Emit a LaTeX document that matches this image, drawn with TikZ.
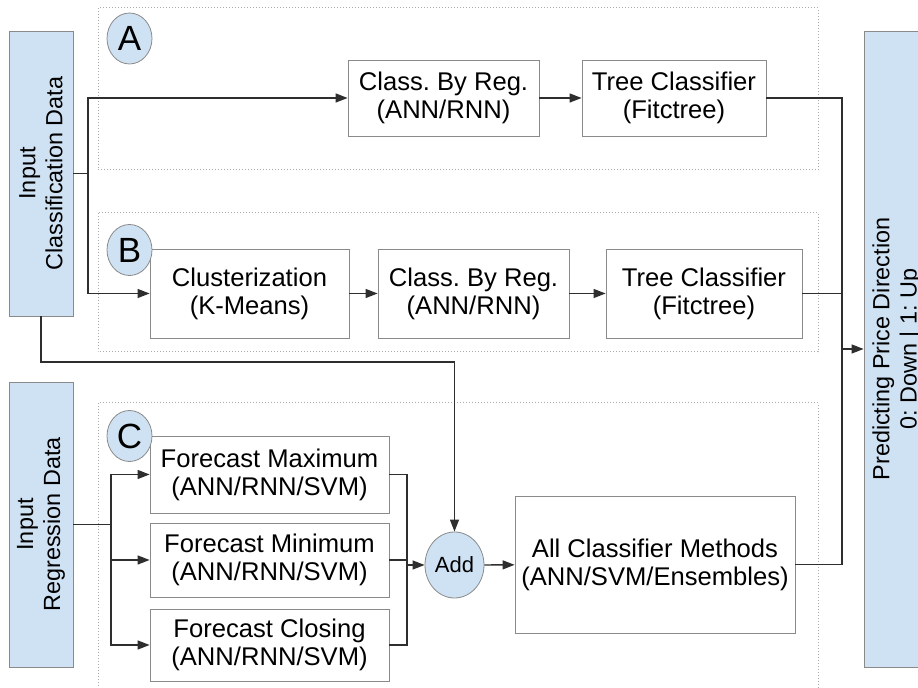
\documentclass[tikz,border=0pt]{standalone}
\usepackage{fontspec}
\setmainfont{Liberation Sans}
\usetikzlibrary{arrows.meta,shapes.geometric}
\definecolor{inblue}{HTML}{CFE2F3}
\definecolor{boxgray}{HTML}{8A8A8A}
\definecolor{grpgray}{HTML}{AAAAAA}
\definecolor{wiregray}{HTML}{2E2E2E}
\frenchspacing
\begin{document}
\begin{tikzpicture}[x=0.5pt,y=-0.5pt,
  stepbox/.style={draw=boxgray,fill=white,align=center,inner sep=0pt,font=\fontsize{12.8}{14}\selectfont},
  databox/.style={draw=boxgray,fill=inblue,inner sep=0pt},
  datatext/.style={rotate=90,align=center,font=\fontsize{11.7}{13.5}\selectfont},
  grpbox/.style={draw=grpgray,densely dotted,line width=0.5pt},
  grplabel/.style={ellipse,draw=boxgray,fill=inblue,minimum width=22.5pt,minimum height=25.5pt,inner sep=0pt,font=\fontsize{17.5}{17.5}\selectfont},
  wire/.style={draw=wiregray,line width=0.65pt},
  conn/.style={wire,-{Triangle[length=6pt,width=4.5pt]}}]
\clip (0,0) rectangle (918,688);
% dotted groups
\draw[grpbox] (98,8) rectangle (818,170);
\draw[grpbox] (98,213) rectangle (818,352);
\draw[grpbox] (98,403) rectangle (818,700);
% inputs and output
\node[databox,minimum width=32pt,minimum height=142.5pt] (inclass) at (41,173.5) {};
\node[datatext] at (inclass) {Input\\Classification Data};
\node[databox,minimum width=32pt,minimum height=142.5pt] (inreg) at (41,524.5) {};
\node[datatext] at (inreg) {Input\\Regression Data};
\node[databox,minimum width=33pt,minimum height=318pt] (output) at (897,349) {};
\node[datatext] at (output) {Predicting Price Direction\\0: Down | 1: Up};
% group A
\node[grplabel] (labA) at (129.5,38.5) {A};
\node[stepbox,minimum width=95.5pt,minimum height=38pt] (clsA) at (443.5,98) {Class. By Reg.\\(ANN/RNN)};
\node[stepbox,minimum width=92pt,minimum height=38pt] (treeA) at (674,98) {Tree Classifier\\(Fitctree)};
% group B
\node[stepbox,minimum width=99.5pt,minimum height=44.5pt] (clusB) at (249.5,293.5) {Clusterization\\(K-Means)};
\node[stepbox,minimum width=95.5pt,minimum height=44.5pt] (clsB) at (473.5,293.5) {Class. By Reg.\\(ANN/RNN)};
\node[stepbox,minimum width=98pt,minimum height=44.5pt] (treeB) at (704,293.5) {Tree Classifier\\(Fitctree)};
\node[grplabel] (labB) at (129.5,250) {B};
% group C
\node[stepbox,minimum width=119.5pt,minimum height=38.5pt] (fmax) at (269.5,474.5) {Forecast Maximum\\(ANN/RNN/SVM)};
\node[stepbox,minimum width=119.5pt,minimum height=37pt] (fmin) at (269.5,560) {Forecast Minimum\\(ANN/RNN/SVM)};
\node[stepbox,minimum width=119.5pt,minimum height=36pt] (fclose) at (269.5,645) {Forecast Closing\\(ANN/RNN/SVM)};
\node[grplabel] (labC) at (129.5,436) {C};
\node[ellipse,draw=boxgray,fill=inblue,minimum width=29.5pt,minimum height=33pt,inner sep=0pt,font=\fontsize{11}{11}\selectfont] (add) at (454.5,565) {Add};
\node[stepbox,minimum width=140pt,minimum height=68.5pt] (allcls) at (655,564.5) {All Classifier Methods\\(ANN/SVM/Ensembles)};
% connectors
\coordinate (splitA) at (88,173.5);
\coordinate (joinO) at (842,349);
\coordinate (addIn) at (454.5,362);
\coordinate (splitC) at (111,524.5);
\coordinate (joinC) at (407,565);
\draw[wire] (inclass) -- (splitA);
\draw[conn] (splitA) |- (clsA);
\draw[conn] (splitA) |- (clusB);
\draw[conn] (clsA) -- (treeA);
\draw[conn] (clusB) -- (clsB);
\draw[conn] (clsB) -- (treeB);
\draw[wire] (treeA) -| (joinO);
\draw[wire] (treeB) -| (joinO);
\draw[wire] (allcls) -| (joinO);
\draw[conn] (joinO) -- (output);
\draw[conn] (inclass.south) |- (addIn) -- (add);
\draw[wire] (inreg) -- (splitC);
\draw[conn] (splitC) |- (fmax);
\draw[conn] (splitC) |- (fmin);
\draw[conn] (splitC) |- (fclose);
\draw[wire] (fmax) -| (joinC);
\draw[wire] (fmin) -| (joinC);
\draw[wire] (fclose) -| (joinC);
\draw[conn] (joinC) -- (add);
\draw[conn] (add) -- (allcls);
\end{tikzpicture}
\end{document}
